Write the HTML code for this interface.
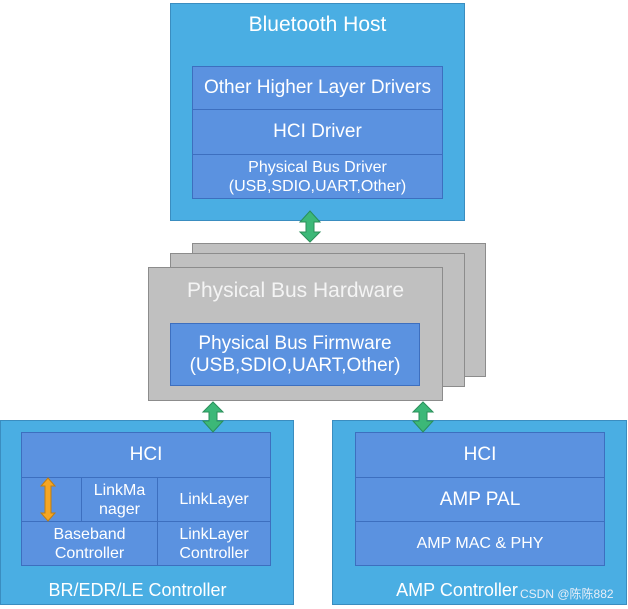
<!DOCTYPE html><html><head><style>
body{margin:0;width:628px;height:609px;background:#fff;position:relative;font-family:"Liberation Sans",sans-serif;color:#fff;overflow:hidden}
.a{position:absolute;box-sizing:border-box}
.o{background:#4aaee3;border:1px solid #3a8dc0}
.i{background:#5b92e0;border:1px solid #3d6fbf;display:flex;align-items:center;justify-content:center;text-align:center}
.g{background:#c0c0c0;border:1px solid #8c8c8c}
.t{display:flex;align-items:center;justify-content:center;text-align:center}
</style></head><body>
<div class="a o" style="left:170px;top:3px;width:295px;height:218px"></div>
<div class="a t" style="left:170px;top:10px;width:295px;height:30px;font-size:21px">Bluetooth Host</div>
<div class="a i" style="left:192px;top:66px;width:251px;height:44px;font-size:19px">Other Higher Layer Drivers</div>
<div class="a i" style="left:192px;top:109px;width:251px;height:46px;font-size:19px">HCI Driver</div>
<div class="a i" style="left:192px;top:154px;width:251px;height:45px;font-size:16px;line-height:19px">Physical Bus Driver<br>(USB,SDIO,UART,Other)</div>
<div class="a g" style="left:192px;top:243px;width:294px;height:134px"></div>
<div class="a g" style="left:170px;top:253px;width:295px;height:134px"></div>
<div class="a g" style="left:148px;top:267px;width:295px;height:134px"></div>
<div class="a t" style="left:148px;top:276px;width:295px;height:30px;font-size:21px;color:#f4f4f4">Physical Bus Hardware</div>
<div class="a i" style="left:170px;top:323px;width:250px;height:63px;font-size:19px;line-height:22px">Physical Bus Firmware<br>(USB,SDIO,UART,Other)</div>

<div class="a o" style="left:0;top:420px;width:294px;height:185px"></div>
<div class="a i" style="left:21px;top:432px;width:250px;height:46px;font-size:19px">HCI</div>
<div class="a i" style="left:21px;top:477px;width:61px;height:45px"></div>
<div class="a i" style="left:81px;top:477px;width:77px;height:45px;font-size:16px;line-height:19px">LinkMa<br>nager</div>
<div class="a i" style="left:157px;top:477px;width:114px;height:45px;font-size:16px">LinkLayer</div>
<div class="a i" style="left:21px;top:521px;width:137px;height:45px;font-size:16px;line-height:19px">Baseband<br>Controller</div>
<div class="a i" style="left:157px;top:521px;width:114px;height:45px;font-size:16px;line-height:19px">LinkLayer<br>Controller</div>
<div class="a t" style="left:0;top:576px;width:275px;height:28px;font-size:18px">BR/EDR/LE Controller</div>

<div class="a o" style="left:332px;top:420px;width:295px;height:185px"></div>
<div class="a i" style="left:355px;top:432px;width:250px;height:46px;font-size:19px">HCI</div>
<div class="a i" style="left:355px;top:477px;width:250px;height:45px;font-size:19px">AMP PAL</div>
<div class="a i" style="left:355px;top:521px;width:250px;height:45px;font-size:16px">AMP MAC &amp; PHY</div>
<div class="a t" style="left:332px;top:576px;width:250px;height:28px;font-size:18px">AMP Controller</div>
<div class="a" style="left:520px;top:585px;font-size:12px;color:#e8eef8">CSDN @陈陈882</div>

<svg class="a" style="left:0;top:0" width="628" height="609">
<g fill="#3cb878" stroke="#2a8f5a" stroke-width="1">
<polygon points="310,211 320,222 314,222 314,232 320,232 310,242 300,232 306,232 306,222 300,222"/>
<polygon points="213,402 223,412 217,412 217,421 223,421 213,432 203,421 209,421 209,412 203,412"/>
<polygon points="423,402 433,412 427,412 427,421 433,421 423,432 413,421 419,421 419,412 413,412"/>
</g>
<polygon points="48,478 55,486 51,486 51,513 55,513 48,521 41,513 45,513 45,486 41,486" fill="#f5a623" stroke="#c07d10"/>
</svg>
</body></html>
